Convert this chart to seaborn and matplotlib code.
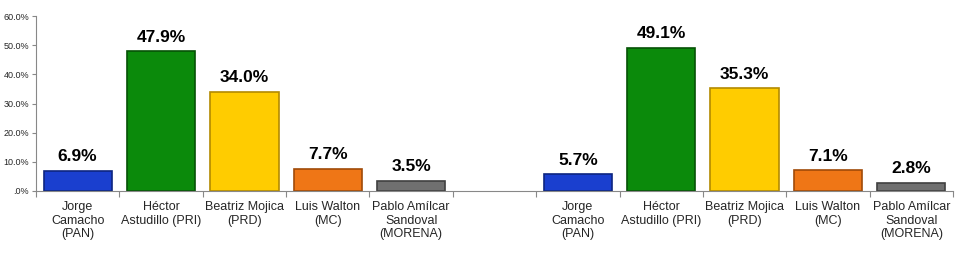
import matplotlib
matplotlib.use("Agg")
import matplotlib.pyplot as plt
import matplotlib.colors as mcolors
import seaborn as sns
import pandas as pd
import numpy as np

candidates = ["Jorge\nCamacho\n(PAN)", "Héctor\nAstudillo (PRI)", "Beatriz Mojica\n(PRD)",
              "Luis Walton\n(MC)", "Pablo Amílcar\nSandoval\n(MORENA)"]
values_left = [6.9, 47.9, 34.0, 7.7, 3.5]
values_right = [5.7, 49.1, 35.3, 7.1, 2.8]
colors = ["#1a3fcf", "#0b8a0b", "#ffcc00", "#ef7616", "#707070"]
edges = ["#0d2580", "#055205", "#b38a00", "#a04a08", "#404040"]
yticks = [0, 10, 20, 30, 40, 50, 60]
ytick_labels = [".0%", "10.0%", "20.0%", "30.0%", "40.0%", "50.0%", "60.0%"]

keys = [f"L{i}" for i in range(5)] + ["gap"] + [f"R{i}" for i in range(5)]
vals = values_left + [np.nan] + values_right
pal = colors + ["#ffffff"] + colors
labels = candidates + [""] + candidates
df = pd.DataFrame({"key": keys, "value": vals})
edge_map = {mcolors.to_hex(c): e for c, e in zip(colors, edges)}

sns.set_theme(style="white")
plt.rcParams['font.family'] = ['Liberation Sans', 'DejaVu Sans']

fig = plt.figure(figsize=(9.56, 2.74), dpi=100)
ax = fig.add_axes([36/956, 1-191/274, 917/956, 175/274])
sns.barplot(data=df, x="key", y="value", hue="key", palette=pal, order=keys,
            hue_order=keys, legend=False, width=0.82, ax=ax, saturation=1)

for patch in ax.patches:
    fc = mcolors.to_hex(patch.get_facecolor())
    patch.set_edgecolor(edge_map.get(fc, fc))
    patch.set_linewidth(1.2)

for i, v in enumerate(vals):
    if not np.isnan(v):
        ax.text(i, v + 2.2, f"{v:.1f}%", ha="center", va="bottom",
                fontsize=12.5, fontweight="bold", color="black")

ax.set_xlim(-0.5, 10.5)
ax.set_ylim(0, 60)
ax.set_yticks(yticks)
ax.set_yticklabels(ytick_labels, fontsize=6.5)
ax.set_xticks(range(11))
ax.set_xticklabels(labels, fontsize=9, linespacing=1.2)
ax.tick_params(axis="x", length=0, pad=7)
ax.tick_params(axis="y", length=3, width=0.8, color="#888888", pad=2, left=True)
ax.set_xticks(np.arange(-0.5, 11, 1), minor=True)
ax.tick_params(axis="x", which="minor", length=4, width=0.8, color="#888888", bottom=True)
ax.set_xlabel("")
ax.set_ylabel("")
for s in ["top", "right"]:
    ax.spines[s].set_visible(False)
for s in ["left", "bottom"]:
    ax.spines[s].set_color("#888888")
    ax.spines[s].set_linewidth(0.8)

fig.savefig("out.png", dpi=100)
